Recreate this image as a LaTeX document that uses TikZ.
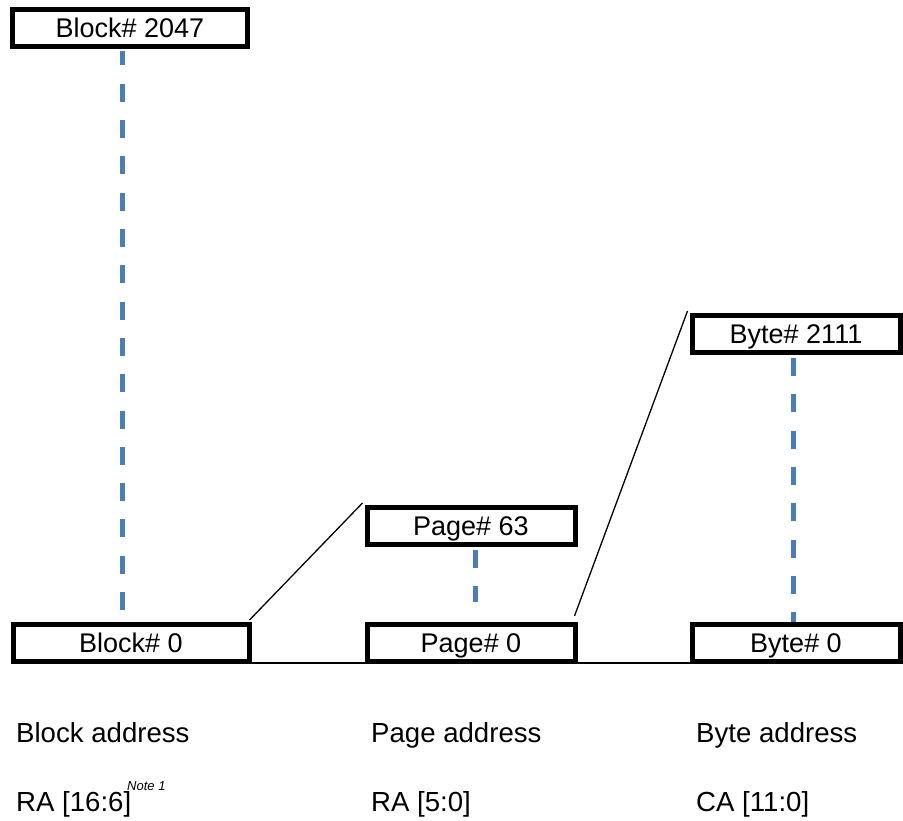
\documentclass[tikz,border=0pt]{standalone}
\usepackage{fontspec}
\setmainfont{Liberation Sans}
\definecolor{dashblue}{RGB}{74,126,187}
\tikzset{
  addrbox/.style={draw, line width=5pt, inner sep=0pt, minimum height=37pt,
    text height=21pt, text depth=1.7pt, font=\fontsize{27}{32}\selectfont},
  addrdash/.style={dashblue, line width=5pt, dash pattern=on 18pt off 18.3pt},
  link/.style={line width=1.3pt},
  addrlabel/.style={anchor=base west, inner sep=0pt, font=\fontsize{27.6}{32}\selectfont}
}
\begin{document}
\begin{tikzpicture}[x=1pt,y=-1pt]
    \useasboundingbox (0,0) rectangle (903,821);

    % 块地址
    \node[addrbox, minimum width=235pt] (B2047) at (130,28) {Block\# 2047};
    \node[addrbox, minimum width=236pt] (B0) at (131,643) {Block\# 0};

    % 页地址
    \node[addrbox, minimum width=208pt] (P63) at (471,526) {Page\# 63};
    \node[addrbox, minimum width=208pt] (P0) at (471,643) {Page\# 0};

    % 字节地址
    \node[addrbox, minimum width=208pt] (C2111) at (796,334) {Byte\# 2111};
    \node[addrbox, minimum width=208pt] (C0) at (796,643) {Byte\# 0};

    % 虚线
    \draw[addrdash] ([xshift=-9pt,yshift=12pt]B0.north) -- ([xshift=-8pt,yshift=-2.5pt]B2047.south);
    \draw[addrdash] ([xshift=4pt,yshift=-2.5pt]P63.south) -- ([xshift=4pt,yshift=20pt]P0.north);
    \draw[addrdash] ([xshift=-3pt,yshift=-3pt]C2111.south) -- ([xshift=-3pt]C0.north);

    % 连接线
    \draw[link] ([xshift=-2pt,yshift=2pt]B0.north east) -- ([xshift=-2pt,yshift=2pt]P63.north west);
    \draw[link] ([xshift=-3pt,yshift=6pt]P0.north east) -- ([xshift=-2pt,yshift=2pt]C2111.north west);
    \draw[link] ([yshift=1pt]B0.south east) -- ([yshift=1pt]P0.south west);
    \draw[link] ([yshift=1pt]P0.south east) -- ([yshift=1pt]C0.south west);

    % 地址说明
    \node[addrlabel] (blabel) at (16,742) {Block address};
    \node[addrlabel] (plabel) at (371,742) {Page address};
    \node[addrlabel] (clabel) at (696,742) {Byte address};
    \node[addrlabel] (bra) at (16,811) {RA [16:6]};
    \node[anchor=base west, inner sep=0pt, font=\fontsize{13}{15}\selectfont\itshape] (note) at (127,790) {Note 1};
    \node[addrlabel] (pra) at (371,811) {RA [5:0]};
    \node[addrlabel] (cca) at (696,811) {CA [11:0]};
\end{tikzpicture}
\end{document}
